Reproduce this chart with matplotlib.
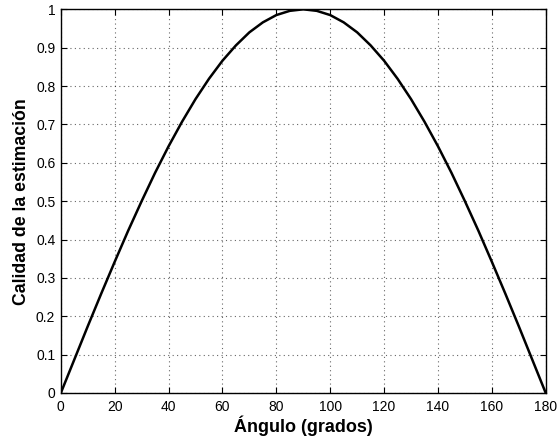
import matplotlib
matplotlib.use("Agg")
import matplotlib.pyplot as plt

plt.rcParams["font.family"] = ["Liberation Sans", "DejaVu Sans"]

# values
angulo = [0, 5, 10, 15, 20, 25, 30, 35, 40, 45, 50, 55, 60, 65, 70, 75, 80, 85, 90,
          95, 100, 105, 110, 115, 120, 125, 130, 135, 140, 145, 150, 155, 160, 165,
          170, 175, 180]
calidad = [0.0, 0.087, 0.174, 0.259, 0.342, 0.423, 0.5, 0.574, 0.643, 0.707, 0.766,
           0.819, 0.866, 0.906, 0.94, 0.966, 0.985, 0.996, 1.0,
           0.996, 0.985, 0.966, 0.94, 0.906, 0.866, 0.819, 0.766, 0.707, 0.643,
           0.574, 0.5, 0.423, 0.342, 0.259, 0.174, 0.087, 0.0]
xticks = list(range(0, 181, 20))
yticks = [0, 0.1, 0.2, 0.3, 0.4, 0.5, 0.6, 0.7, 0.8, 0.9, 1]

fig = plt.figure(figsize=(5.58, 4.37), dpi=100)
ax = fig.add_axes([0.109, 0.1007, 0.869, 0.878])
ax.plot(angulo, calidad, color="black", linewidth=1.8)
ax.set_xlim(0, 180)
ax.set_ylim(0, 1)
ax.set_xticks(xticks)
ax.set_yticks(yticks)
ax.set_yticklabels(["0", "0.1", "0.2", "0.3", "0.4", "0.5", "0.6", "0.7", "0.8", "0.9", "1"])
ax.tick_params(direction="in", top=True, right=True, labelsize=10, length=4)
ax.tick_params(axis="x", pad=5)
ax.tick_params(axis="y", pad=4)
ax.grid(True, linestyle=(0, (1, 3)), color="black", linewidth=0.8, alpha=0.6)
for s in ax.spines.values():
    s.set_linewidth(1.0)
ax.set_xlabel("Ángulo (grados)", fontsize=13, fontweight="bold", labelpad=1)
ax.set_ylabel("Calidad de la estimación", fontsize=12.7, fontweight="bold", labelpad=4)

fig.savefig("out.png", dpi=100)
